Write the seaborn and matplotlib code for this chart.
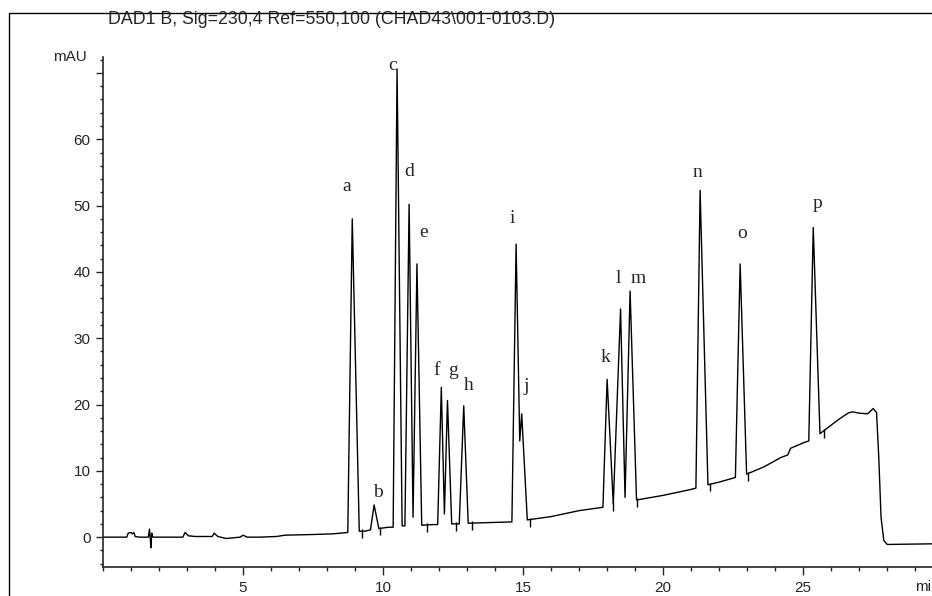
import numpy as np
import pandas as pd
import seaborn as sns
import matplotlib.pyplot as plt
from matplotlib.patches import Rectangle
from matplotlib.ticker import MultipleLocator

sns.set_style("ticks")
plt.rcParams['font.family'] = ['Liberation Sans', 'DejaVu Sans']

title = r"DAD1 B, Sig=230,4 Ref=550,100 (CHAD43\001-0103.D)"

# peaks: retention time (min) and apex height (mAU)
peak_names = ['a', 'b', 'c', 'd', 'e', 'f', 'g', 'h', 'i', 'j', 'k', 'l', 'm', 'n', 'o', 'p']
peak_rt = [8.9, 9.68, 10.5, 10.93, 11.21, 12.08, 12.3, 12.88, 14.75, 14.95,
           18.0, 18.48, 18.82, 21.32, 22.75, 25.36]
peak_mau = [48.0, 4.85, 70.6, 50.2, 41.2, 22.6, 20.6, 19.8, 44.2, 18.6,
            23.8, 34.4, 37.1, 52.3, 41.2, 46.7]

# trace between the peaks: baseline, peak feet and valleys (min, mAU)
base_t = [0.0, 0.85, 0.9, 1.0, 1.05, 1.1, 1.15, 1.3, 1.62, 1.66, 1.69, 1.71, 1.74, 1.78,
          2.85, 2.93, 3.05, 3.3, 3.9, 3.97, 4.1, 4.4, 4.9, 5.0, 5.15, 5.6, 6.2, 6.5,
          7.5, 8.2, 8.74, 9.15, 9.35, 9.55, 9.85, 10.2, 10.36, 10.68, 10.78, 11.07,
          11.38, 11.8, 11.95, 12.19, 12.45, 12.72, 13.04, 13.8, 14.6, 14.88, 15.15,
          16.0, 17.0, 17.85, 18.22, 18.64, 19.05, 20.0, 21.0, 21.17, 21.6, 22.0,
          22.58, 22.98, 23.6, 24.2, 24.45, 24.55, 25.05, 25.2, 25.6, 26.25, 26.6,
          26.75, 27.0, 27.3, 27.5, 27.62, 27.7, 27.78, 27.88, 28.0, 29.7]
base_mau = [0.0, 0.0, 0.6, 0.7, 0.5, 0.7, 0.1, 0.0, 0.0, 1.2, -0.3, -1.6, 0.6, 0.0,
            0.0, 0.7, 0.2, 0.1, 0.1, 0.6, 0.1, -0.2, 0.0, 0.3, 0.0, 0.0, 0.1, 0.3,
            0.4, 0.5, 0.7, 0.9, 0.9, 1.1, 1.3, 1.5, 1.5, 1.7, 1.7, 3.0,
            1.8, 1.9, 1.9, 3.5, 2.0, 2.0, 2.1, 2.2, 2.3, 14.5, 2.6,
            3.1, 4.0, 4.5, 5.0, 6.0, 5.6, 6.3, 7.2, 7.4, 7.9, 8.3,
            9.0, 9.5, 10.6, 12.0, 12.4, 13.4, 14.3, 14.5, 15.6, 17.7, 18.7,
            18.9, 18.7, 18.6, 19.4, 18.8, 12.0, 3.0, -0.5, -1.1, -1.0]

# integration event marks (min, baseline mAU)
event_t = [9.24, 9.9, 11.57, 12.6, 13.18, 15.25, 18.2, 19.07, 21.66, 23.03, 25.75]
event_mau = [0.9, 1.3, 1.8, 2.0, 2.1, 2.6, 5.0, 5.6, 7.9, 9.5, 16.0]

# letter positions (baseline of the letter)
label_t = [8.71, 9.82, 10.33, 10.93, 11.46, 11.93, 12.5, 13.05, 14.6, 15.11,
           17.93, 18.4, 19.1, 21.21, 22.82, 25.5]
label_mau = [52.2, 6.1, 70.5, 54.4, 45.3, 24.4, 24.4, 22.2, 47.4, 22.0,
             26.4, 38.3, 38.3, 54.3, 45.1, 49.7]

df = pd.DataFrame({'min': base_t + peak_rt, 'mAU': base_mau + peak_mau})
df = df.sort_values('min', kind='mergesort')

fig = plt.figure(figsize=(9.32, 5.96), dpi=100)
ax = fig.add_axes([103 / 932, 29 / 596, 1 - 103 / 932, (567 - 57) / 596])

sns.lineplot(data=df, x='min', y='mAU', ax=ax, color='black', lw=1.0,
             estimator=None, sort=False)

# little tick marks where the integrator ended a peak
ev = np.array(event_mau)
ax.vlines(event_t, ev - 1.0, ev + 0.3, color='black', lw=1.0)

for name, t, y in zip(peak_names, label_t, label_mau):
    ax.text(t, y, name, ha='center', va='baseline', fontsize=14,
            family=['Liberation Serif', 'DejaVu Serif'])

ax.set_xlim(0, 29.6)
ax.set_ylim(-4.5, 72.4)
ax.set_xticks([5, 10, 15, 20, 25])
ax.set_yticks(range(0, 80, 10), labels=['0', '10', '20', '30', '40', '50', '60', ''])
ax.xaxis.set_minor_locator(MultipleLocator(1))
ax.yaxis.set_minor_locator(MultipleLocator(2))
ax.tick_params(axis='x', which='major', direction='out', length=6, width=1, pad=4, labelsize=11)
ax.tick_params(axis='x', which='minor', direction='out', length=3, width=1)
ax.tick_params(axis='y', which='major', direction='out', length=5, width=1, pad=4, labelsize=11)
ax.tick_params(axis='y', which='minor', direction='out', length=2.5, width=1)
ax.set_xlabel('')
ax.set_ylabel('')
sns.despine(ax=ax)
for s in ['left', 'bottom']:
    ax.spines[s].set_linewidth(1.2)

ax.text(-0.02, 1.0, 'mAU', transform=ax.transAxes, ha='right', va='center', fontsize=11)
ax.text(29.0, -0.04, 'min', transform=ax.get_xaxis_transform(), ha='left', va='center', fontsize=11)

fig.text(108 / 932, 1 - 20 / 596, title, ha='left', va='center', fontsize=12.8)
fig.patches.append(Rectangle((9 / 932, -0.1), 1.1, 1.1 - 12.7 / 596, transform=fig.transFigure,
                             fill=False, lw=1, ec='black'))

fig.savefig('out.png', dpi=100)
